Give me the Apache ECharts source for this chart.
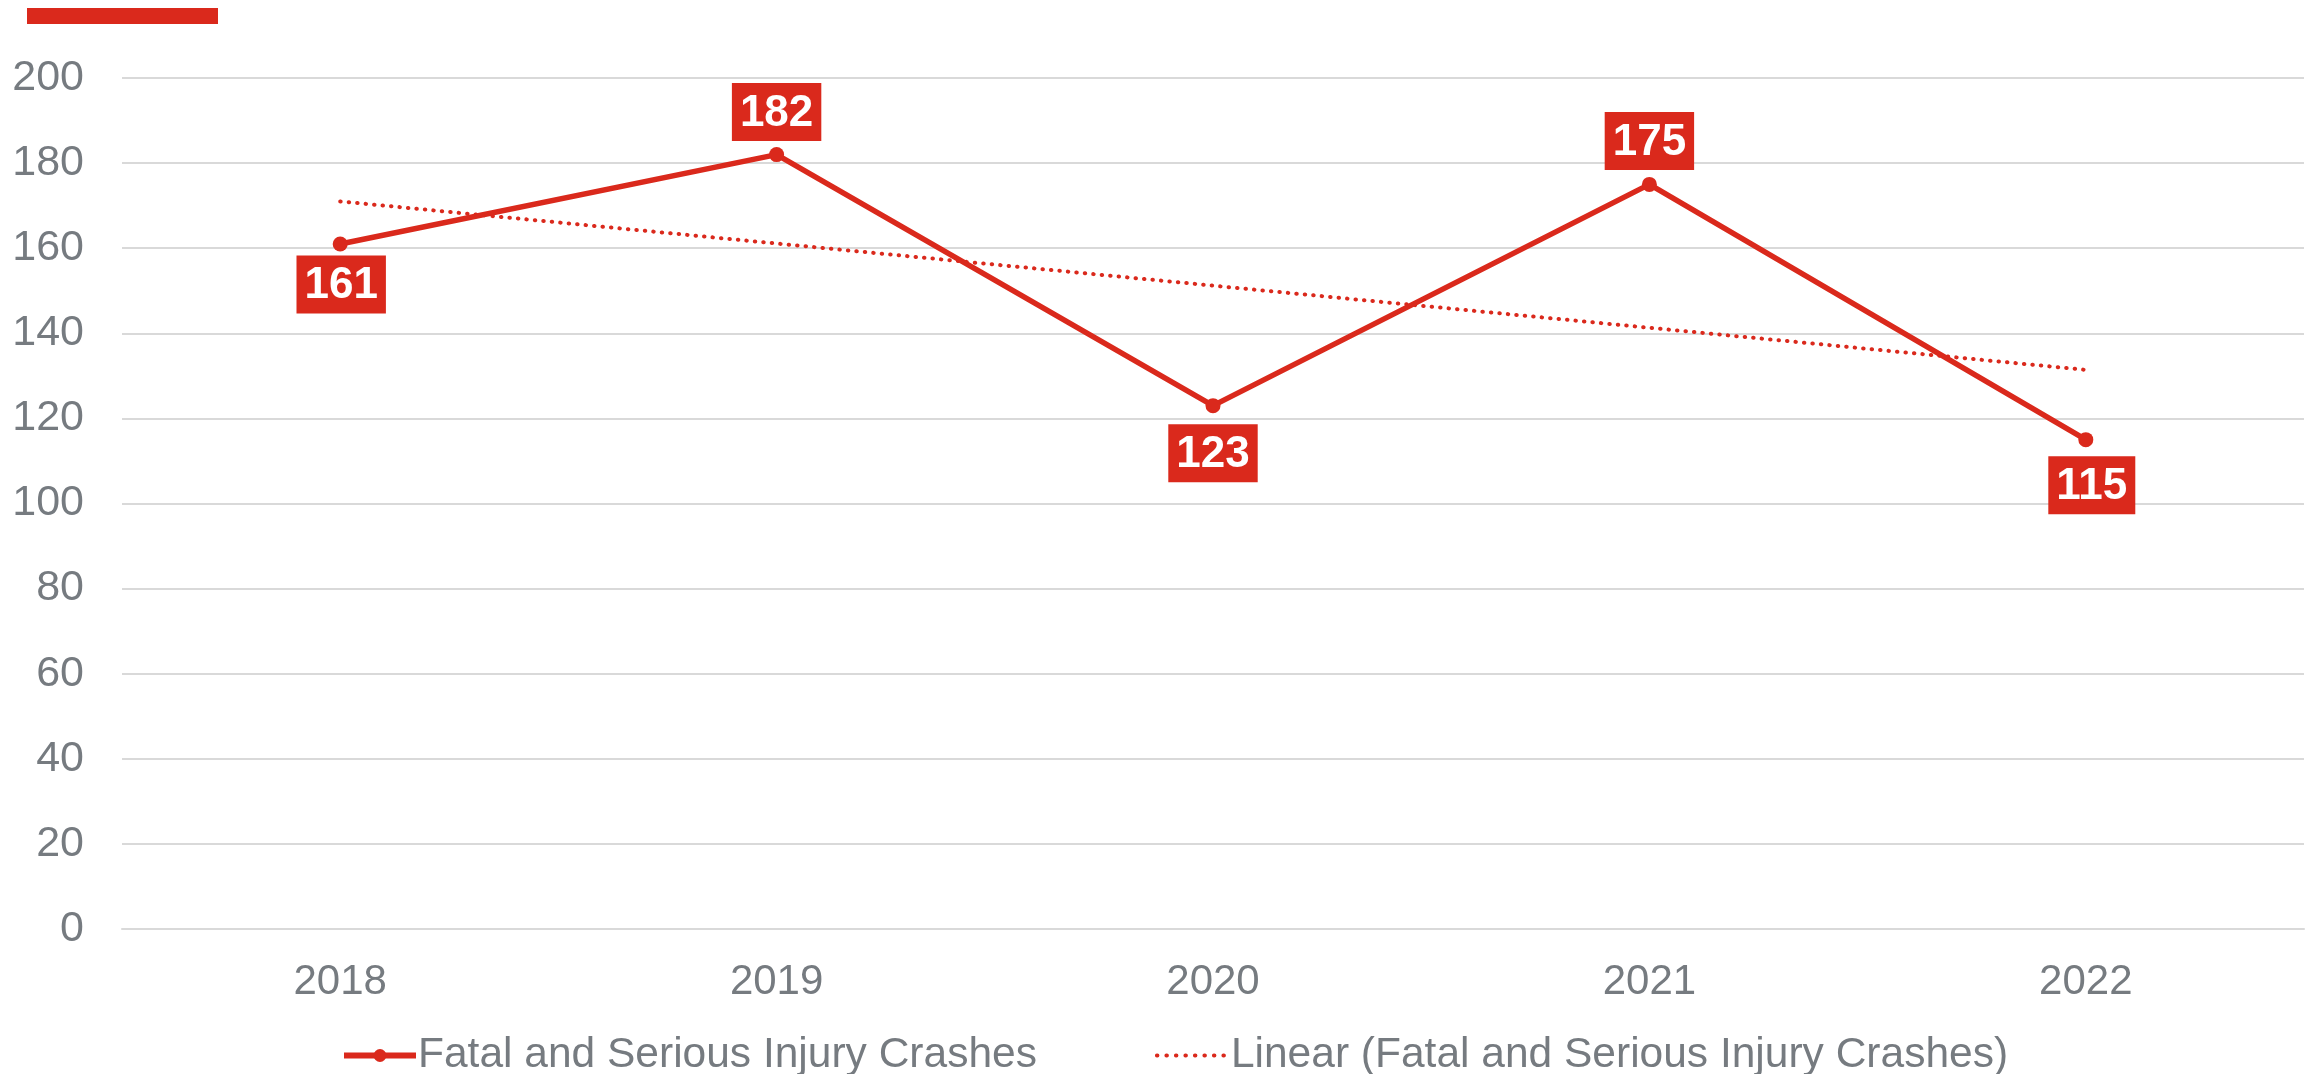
<!DOCTYPE html>
<html>
<head>
<meta charset="utf-8">
<script src="https://cdn.jsdelivr.net/npm/echarts@6/dist/echarts.min.js"></script>
<style>
html,body{margin:0;padding:0;background:#fff;}
#chart{width:2318px;height:1074px;}
</style>
</head>
<body>
<div id="chart"></div>
<script>
const categories = ['2018', '2019', '2020', '2021', '2022'];
const crashes = [161, 182, 123, 175, 115];
const trend = [171.0, 161.1, 151.2, 141.3, 131.4];
const labelPlacement = ['bottom', 'top', 'bottom', 'top', 'bottom'];
const labelDistance = [4, 6, 11, 7, 9];
const labelDx = [1, 0, 0, 0, 6];

const RED = '#DA291C';
const GREY = '#767b80';
const FONT = '"Liberation Sans", Arial, sans-serif';

const chart = echarts.init(document.getElementById('chart'), null, {renderer: 'canvas'});

const mainData = crashes.map((v, i) => ({
  value: v,
  label: {
    position: labelPlacement[i],
    distance: labelDistance[i],
    offset: [labelDx[i], 0]
  }
}));

chart.setOption({
  animation: false,
  backgroundColor: '#ffffff',
  textStyle: {fontFamily: FONT},
  graphic: [{
    type: 'rect',
    left: 27, top: 8,
    shape: {width: 191, height: 16},
    style: {fill: RED}
  }],
  grid: {left: 122, right: 14, top: 78, bottom: 145, containLabel: false},
  legend: {
    top: 1029,
    left: 336,
    itemWidth: 72,
    itemHeight: 16,
    itemGap: 118,
    textStyle: {color: GREY, fontSize: 42.5, fontFamily: FONT, padding: [0, 0, 0, -3]},
    data: [
      {name: 'Fatal and Serious Injury Crashes', lineStyle: {width: 6, color: RED}},
      {name: 'Linear (Fatal and Serious Injury Crashes)', itemStyle: {opacity: 0},
       lineStyle: {width: 4, color: RED, type: [0.5, 9], cap: 'round'}}
    ]
  },
  xAxis: {
    type: 'category',
    data: categories,
    boundaryGap: true,
    axisLine: {show: true, lineStyle: {color: '#d9d9d9', width: 2}},
    axisTick: {show: false},
    axisLabel: {color: GREY, fontSize: 42, fontFamily: FONT, margin: 32}
  },
  yAxis: {
    type: 'value',
    min: 0, max: 200, interval: 20,
    axisLine: {show: false},
    axisTick: {show: false},
    axisLabel: {color: GREY, fontSize: 43, fontFamily: FONT, margin: 38},
    splitLine: {lineStyle: {color: '#d9d9d9', width: 2}}
  },
  series: [
    {
      name: 'Fatal and Serious Injury Crashes',
      type: 'line',
      data: mainData,
      symbol: 'circle',
      symbolSize: 15,
      itemStyle: {color: RED},
      lineStyle: {color: RED, width: 5.5},
      z: 3,
      label: {
        show: true,
        color: '#ffffff',
        fontWeight: 'bold',
        fontSize: 44,
        fontFamily: FONT,
        backgroundColor: RED,
        padding: [6, 8, 3, 8],
        lineHeight: 49
      }
    },
    {
      name: 'Linear (Fatal and Serious Injury Crashes)',
      type: 'line',
      data: trend,
      symbol: 'circle',
      showSymbol: false,
      itemStyle: {color: RED},
      lineStyle: {color: RED, width: 4, type: [0.5, 8], cap: 'round'},
      z: 2,
      silent: true
    }
  ]
});
</script>
</body>
</html>
